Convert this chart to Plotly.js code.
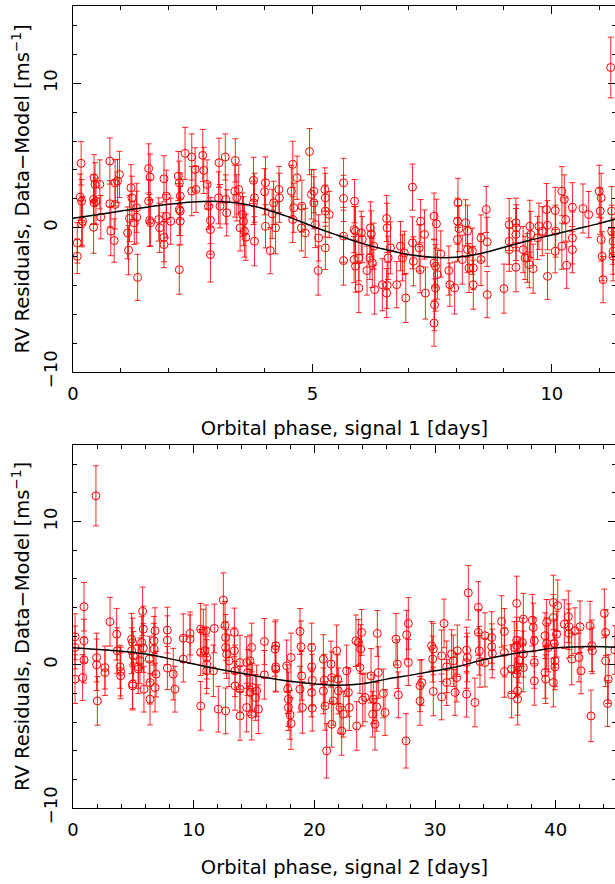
<!DOCTYPE html>
<html>
<head>
<meta charset="utf-8">
<script src="https://cdn.plot.ly/plotly-3.0.1.min.js"></script>
<style>
html,body{margin:0;padding:0;overflow:hidden;background:#fff;}
#chart{width:618px;height:884px;}
</style>
</head>
<body>
<div id="chart"></div>
<script>
// ---- Panel 1: signal 1 ----
const phase1 = [
0.15,0.18,0.17,0.20,0.18,0.09,0.09,0.44,0.46,0.43,
0.44,0.48,0.43,0.56,0.58,0.77,0.77,0.79,0.86,0.88,
0.88,0.93,0.97,1.14,1.16,1.21,1.23,1.18,1.33,1.28,
1.33,1.35,1.58,1.61,1.58,1.60,1.62,1.79,1.81,1.90,
1.95,1.90,1.90,1.95,2.04,2.20,2.22,2.24,2.22,2.24,
2.24,2.22,2.34,2.48,2.48,2.55,2.57,2.71,2.73,2.80,
2.83,2.87,2.87,2.87,3.05,3.04,3.07,3.18,3.19,3.21,
3.39,3.38,3.42,3.46,3.49,3.54,3.56,3.58,3.61,3.77,
3.79,3.77,3.79,4.02,4.00,4.02,4.12,4.16,4.19,4.23,
4.30,4.31,4.56,4.59,4.68,4.61,4.59,4.78,4.77,4.85,
4.94,4.98,5.03,5.03,5.06,5.12,5.13,5.26,5.27,5.27,
5.35,5.27,5.65,5.65,5.65,5.65,5.88,5.87,5.90,5.87,
5.90,5.97,5.97,6.02,6.04,6.14,6.21,6.23,6.20,6.25,
6.28,6.30,6.46,6.55,6.56,6.58,6.56,6.55,6.63,6.76,
6.84,6.88,6.92,6.95,7.09,7.09,7.11,7.23,7.26,7.25,
7.34,7.36,7.54,7.59,7.54,7.57,7.61,7.57,7.55,7.54,
7.68,7.85,7.87,7.97,8.03,8.04,8.06,8.03,8.13,8.20,
8.24,8.24,8.27,8.34,8.36,8.36,8.52,8.52,8.63,8.65,
8.65,9.00,9.11,9.11,9.11,9.25,9.26,9.25,9.25,9.40,
9.44,9.49,9.53,9.54,9.56,9.61,9.70,9.73,9.80,9.89,
9.91,9.91,10.07,10.07,10.08,10.21,10.21,10.26,10.29,10.31,
10.43,10.43,10.43,10.65,10.77,10.99,11.03,11.01,11.03,11.05,
11.07,11.25,11.25,11.28,11.28,11.28,11.23
];
const rv1 = [
2.12,1.84,4.46,0.45,0.27,-1.05,-1.98,3.46,3.00,1.96,
1.73,1.84,0.03,3.00,0.73,4.62,1.66,-0.24,-0.89,3.11,
1.61,3.23,3.69,-0.36,-1.56,2.77,2.07,0.64,1.38,0.34,
0.73,-3.44,4.11,3.51,1.84,0.50,0.34,0.57,-0.01,3.39,
0.80,-0.66,-1.17,2.19,0.45,3.58,3.11,2.19,1.26,1.15,
0.45,-2.91,5.15,4.90,2.53,4.04,2.65,5.01,3.97,3.00,
1.49,-0.13,-1.86,0.50,4.50,2.07,1.49,4.90,1.96,1.03,
4.66,2.53,2.07,2.65,-0.01,0.91,0.45,-0.24,-0.66,3.28,
2.07,1.72,-0.94,3.11,2.49,0.10,-1.59,0.96,1.72,-0.01,
2.65,2.07,2.53,4.39,3.46,1.38,0.57,1.49,-0.01,-0.36,
5.27,2.30,2.53,1.72,0.22,-2.97,-0.71,2.65,2.07,1.15,
0.91,-1.40,3.11,2.03,-0.59,-2.28,1.84,-0.13,-0.24,-2.21,
-2.67,-2.09,-4.18,-0.36,-0.82,-2.97,-0.01,-0.43,-2.09,-2.44,
-1.28,-4.29,-3.95,0.64,-0.01,-2.09,-3.99,-4.53,-1.40,-3.95,
-1.28,-2.09,-1.75,-4.87,2.81,-1.05,-2.33,-1.40,0.45,-2.91,
-0.47,-4.53,0.80,0.27,-2.44,-2.67,-3.25,-4.18,-5.34,-6.61,
-1.82,-2.97,-3.95,-4.18,0.45,1.72,-0.06,-0.82,-2.21,0.34,
-0.24,-1.52,-2.79,-1.63,-2.79,-3.95,-0.71,-2.21,1.26,-0.98,
-4.64,-4.22,0.22,-0.94,-1.52,0.34,-0.01,-2.74,-0.47,-1.52,
-2.09,-2.09,-2.56,0.10,-0.47,-2.84,-0.71,0.10,-0.24,1.26,
-3.37,0.17,1.19,-1.63,-0.24,2.53,-1.28,1.96,0.57,-2.60,
1.42,-0.71,-1.52,1.33,0.91,2.53,2.07,1.15,-0.82,-1.98,
-3.60,1.15,-0.24,-0.94,-1.98,-1.63,11.10
];
const err1 = [
1.6,1.5,1.5,1.7,1.6,1.4,1.2,1.6,1.5,1.7,
1.5,1.6,1.8,1.7,1.5,1.6,1.6,1.7,1.5,1.6,
1.7,1.5,1.6,1.8,1.7,1.6,1.5,1.6,1.7,1.5,
1.8,1.6,1.7,1.6,1.5,1.8,1.6,1.5,1.7,1.6,
1.5,1.7,1.6,1.8,1.6,1.7,1.5,1.6,1.8,1.7,
1.6,1.7,1.8,1.6,1.7,1.5,1.6,1.8,1.6,1.7,
1.6,1.7,1.9,1.6,1.7,1.8,1.5,1.6,1.7,1.6,
1.5,1.8,1.6,1.7,1.6,1.5,1.7,1.8,1.6,1.6,
1.7,1.5,1.7,1.8,1.6,1.5,1.6,1.7,1.5,1.8,
1.6,1.7,1.8,1.6,1.5,1.7,1.6,1.8,1.6,1.7,
1.6,1.7,1.5,1.8,1.6,1.7,1.6,1.5,1.7,1.8,
1.6,1.5,1.7,1.6,1.8,1.7,1.5,1.6,1.7,1.6,
1.8,1.6,1.7,1.5,1.6,1.7,1.8,1.6,1.5,1.7,
1.6,1.7,1.8,1.6,1.7,1.5,1.6,1.7,1.8,1.6,
1.7,1.6,1.5,1.7,1.6,1.8,1.7,1.6,1.5,1.6,
1.7,1.8,1.6,1.7,1.6,1.5,1.7,1.6,1.8,1.6,
1.6,1.7,1.5,1.8,1.6,1.7,1.6,1.5,1.7,1.6,
1.8,1.6,1.7,1.6,1.5,1.7,1.6,1.8,1.6,1.7,
1.6,1.7,1.8,1.6,1.5,1.7,1.6,1.7,1.8,1.6,
1.5,1.7,1.6,1.8,1.6,1.7,1.5,1.6,1.7,1.8,
1.6,1.7,1.6,1.5,1.8,1.7,1.6,1.7,1.5,1.6,
1.7,1.8,1.6,1.7,1.6,1.8,1.7,1.6,1.5,1.7,
1.6,1.7,1.8,1.6,1.7,1.6,2.1
];
const model1Phase = [0,0.5,1,1.5,2,2.5,3,3.5,4,4.5,5,5.5,6,6.5,7,7.5,8,8.5,9,9.5,10,10.5,11,11.34];
const model1RV = [0.65,0.9,1.15,1.4,1.62,1.78,1.82,1.68,1.3,0.75,0.1,-0.5,-1.05,-1.5,-1.85,-2.05,-2.05,-1.8,-1.35,-0.9,-0.5,-0.1,0.3,0.6];

// ---- Panel 2: signal 2 ----
const phase2 = [
0.17,0.17,0.17,0.80,0.91,0.91,0.91,1.96,1.96,2.02,
2.65,2.65,3.07,3.62,3.67,3.90,3.95,3.95,4.86,4.94,
4.86,5.00,4.94,4.94,5.41,5.41,5.55,5.69,5.77,5.83,
5.83,5.88,6.38,6.38,6.33,6.71,6.80,6.71,6.80,6.88,
7.82,7.82,7.82,8.31,8.45,9.14,9.14,9.70,9.70,10.58,
10.58,10.58,10.80,10.94,11.02,11.08,11.08,11.08,1.90,11.71,
11.63,12.04,12.46,12.60,12.65,12.65,12.73,12.65,12.93,13.37,
13.37,13.43,13.43,13.84,13.84,13.84,14.39,14.48,14.39,14.67,
14.81,14.67,14.81,14.86,15.14,15.36,15.22,15.86,15.86,16.74,
16.80,16.80,16.80,17.71,17.79,17.85,17.85,17.99,18.07,18.07,
18.81,18.90,18.95,18.81,19.01,19.78,19.78,19.83,19.78,19.83,
20.75,20.83,20.75,20.89,21.02,21.38,21.44,21.57,21.44,21.85,
21.93,21.99,22.13,22.27,22.40,22.68,22.82,22.90,23.45,23.51,
23.65,23.78,23.84,23.92,24.01,24.20,24.70,24.83,24.89,25.03,
25.17,25.22,25.30,25.72,25.86,26.77,26.88,26.96,27.60,27.65,
27.79,27.79,28.76,28.76,28.90,29.72,29.86,29.81,29.86,30.55,
30.55,30.75,30.97,30.97,31.38,31.52,31.66,31.80,31.85,32.62,
32.68,32.62,32.62,32.76,33.31,33.59,33.59,33.67,33.73,34.14,
34.14,34.70,34.70,34.75,35.52,35.75,35.75,35.75,36.35,36.35,
36.57,36.77,36.77,36.77,36.85,36.77,36.85,36.85,36.96,37.24,
37.32,37.32,37.32,38.07,38.15,38.23,38.23,38.23,39.12,39.12,
39.17,39.25,39.25,39.39,39.81,39.81,39.89,39.94,39.94,39.81,
40.17,40.08,40.72,41.05,41.10,41.10,41.33,41.60,41.93,42.02,
42.10,42.85,42.99,43.04,42.93,44.03,44.14,44.14,44.36,44.30,
44.91
];
const rv2 = [
1.96,1.21,-1.00,-0.89,4.06,1.68,0.33,0.51,0.00,-2.52,
-0.19,-0.54,3.01,2.14,0.98,-0.14,-0.47,-0.77,1.79,1.56,
0.98,0.63,-1.35,-1.47,-0.14,-0.30,0.28,1.56,3.73,2.49,
1.17,-1.70,-2.40,-1.24,0.40,1.68,2.38,1.10,-1.59,-0.65,
2.42,1.72,-0.23,-0.65,-1.70,1.86,0.40,2.19,1.79,2.49,
0.86,-2.87,2.38,0.98,2.38,0.05,-0.42,0.51,11.80,2.54,
-0.42,-3.10,4.52,2.73,1.91,1.21,0.75,-3.22,0.28,2.26,
0.98,-0.42,-1.47,0.16,-1.70,-3.57,0.16,-0.54,-2.98,0.28,
1.21,-1.93,-3.45,-1.59,-2.28,-3.10,-1.82,1.63,-0.70,1.10,
1.33,-0.14,-0.30,-0.07,-1.70,-2.40,-2.98,-3.50,-4.10,0.51,
2.33,1.26,-0.77,-1.70,-2.98,1.21,-0.14,-1.07,-1.93,-3.03,
0.40,-1.07,-1.82,-2.87,-6.01,0.05,-0.89,-2.52,-4.15,0.98,
-1.00,-1.82,-2.98,-4.62,-3.45,-0.42,-1.93,-2.98,1.68,-4.27,
1.56,-0.19,1.10,2.26,-2.47,-2.28,-0.77,-3.45,-2.40,-4.15,
-2.94,2.19,-0.54,-2.00,-3.33,1.79,0.05,-2.10,-5.31,2.10,
2.89,0.16,-2.52,-1.47,-1.24,1.33,1.10,0.40,-1.86,0.63,
-2.24,2.89,-0.14,-1.24,0.75,0.28,-1.93,-0.89,0.98,1.03,
0.51,0.16,-2.05,5.03,-2.63,4.01,2.26,0.98,0.23,2.03,
0.16,1.91,1.26,0.79,3.03,2.33,0.86,-0.47,-2.10,-0.30,
1.21,4.29,1.72,1.33,-0.19,-0.65,-1.82,-2.40,0.33,1.56,
3.19,0.75,-0.19,3.12,2.61,1.68,0.16,-1.12,2.03,-0.54,
-1.00,2.96,1.49,1.21,4.36,3.31,1.49,0.28,-0.14,-1.24,
4.13,2.14,2.84,3.36,2.66,2.19,0.40,2.38,0.51,2.66,
-0.42,2.73,1.33,0.98,-3.57,3.59,2.26,0.28,-1.00,-2.70,
1.03
];
const err2 = [
1.6,1.5,1.7,1.6,1.7,1.5,1.6,1.7,1.8,1.7,
1.5,1.6,1.7,1.8,1.6,1.5,1.7,1.6,1.8,1.7,
1.6,1.7,1.8,1.6,1.5,1.7,1.6,1.8,1.7,1.6,
1.7,1.6,1.8,1.5,1.6,1.7,1.6,1.8,1.7,1.6,
1.6,1.7,1.5,1.8,1.6,1.7,1.6,1.5,1.7,1.8,
1.6,1.7,1.5,1.6,1.8,1.7,1.6,1.5,2.1,1.7,
1.8,1.6,1.9,1.7,1.6,1.8,1.7,1.6,1.8,1.7,
1.6,1.8,1.7,1.9,1.6,1.7,1.8,1.6,1.7,1.8,
1.7,1.6,1.8,1.7,1.6,1.7,1.8,1.6,1.7,1.9,
1.8,1.7,1.6,1.8,1.7,1.9,1.6,1.7,1.8,1.7,
1.6,1.8,1.7,1.6,1.8,1.7,1.6,1.8,1.7,1.6,
1.7,1.8,1.6,1.7,1.9,1.6,1.8,1.7,1.6,1.8,
1.7,1.6,1.8,1.7,1.6,1.8,1.7,1.6,1.8,1.7,
1.6,1.8,1.7,1.6,1.8,1.7,1.9,1.6,1.7,1.8,
1.7,1.6,1.8,1.7,1.6,1.8,1.7,1.6,1.9,1.7,
1.8,1.6,1.7,1.8,1.6,1.7,1.8,1.6,1.7,1.8,
1.6,1.7,1.8,1.6,1.7,1.8,1.6,1.7,1.8,1.6,
1.7,1.8,1.6,1.9,1.7,1.8,1.6,1.7,1.8,1.6,
1.7,1.8,1.6,1.7,1.8,1.6,1.7,1.8,1.6,1.7,
1.8,1.9,1.6,1.7,1.8,1.6,1.7,1.8,1.6,1.7,
1.8,1.6,1.7,1.8,1.7,1.6,1.8,1.7,1.6,1.8,
1.7,1.6,1.8,1.7,1.9,1.6,1.7,1.8,1.6,1.7,
1.8,1.6,1.7,1.8,1.6,1.7,1.8,1.6,1.7,1.8,
1.6,1.7,1.8,1.6,1.8,1.7,1.6,1.8,1.7,1.6,
1.7
];
const model2Phase = [0,3,6,9,12,15,18,20,22,24,26,28,30,32,34,36,38,40,42,44,45];
const model2RV = [1.2,1.02,0.75,0.25,-0.3,-0.75,-1.15,-1.33,-1.42,-1.33,-1.0,-0.72,-0.42,-0.1,0.35,0.7,0.95,1.17,1.26,1.26,1.22];

const axisTitle1 = 'Orbital phase, signal 1 [days]';
const axisTitle2 = 'Orbital phase, signal 2 [days]';
const yTitle = 'RV Residuals, Data\u2212Model [ms<sup>\u22121</sup>]';

const ptStyle = {
  mode: 'markers', type: 'scatter', hoverinfo: 'skip',
  marker: {symbol: 'circle-open', size: 8, color: 'red', line: {width: 1, color: 'red'}}
};
const ebar = (arr) => ({type: 'data', array: arr, visible: true, color: 'rgba(255,0,0,0.85)', thickness: 1, width: 3});

const data = [
  Object.assign({x: phase1, y: rv1, xaxis: 'x', yaxis: 'y', error_y: ebar(err1)}, ptStyle),
  {x: model1Phase, y: model1RV, xaxis: 'x', yaxis: 'y', mode: 'lines', type: 'scatter',
   line: {color: 'black', width: 1.5, shape: 'spline'}, hoverinfo: 'skip'},
  Object.assign({x: phase2, y: rv2, xaxis: 'x2', yaxis: 'y2', error_y: ebar(err2)}, ptStyle),
  {x: model2Phase, y: model2RV, xaxis: 'x2', yaxis: 'y2', mode: 'lines', type: 'scatter',
   line: {color: 'black', width: 1.5, shape: 'spline'}, hoverinfo: 'skip'}
];

const fontFam = 'DejaVu Sans, sans-serif';
function xax(range, dtick, minorDtick, anchor, title, standoff) {
  return {
    anchor: anchor, range: range, dtick: dtick, tick0: 0,
    showline: true, linecolor: 'black', linewidth: 1, mirror: 'ticks',
    ticks: 'inside', ticklen: 8, tickwidth: 1, tickcolor: 'black',
    minor: {dtick: minorDtick, tick0: 0, ticks: 'inside', ticklen: 4, tickcolor: 'black', tickwidth: 1},
    showgrid: false, zeroline: false,
    tickfont: {family: fontFam, size: 18, color: 'black'},
    ticklabelstandoff: 5,
    title: {text: title, font: {family: fontFam, size: 19.5, color: 'black'}, standoff: standoff},
    automargin: false
  };
}
function yax(range, domain, anchor) {
  return {
    anchor: anchor, domain: domain, range: range, dtick: 10, tick0: 0,
    showline: true, linecolor: 'black', linewidth: 1, mirror: 'ticks',
    ticks: 'inside', ticklen: 8, tickwidth: 1, tickcolor: 'black',
    minor: {dtick: 2, tick0: 0, ticks: 'inside', ticklen: 4, tickcolor: 'black', tickwidth: 1},
    showgrid: false, zeroline: false, tickangle: -90,
    tickfont: {family: fontFam, size: 18, color: 'black'},
    ticklabelstandoff: 8,
    title: {text: yTitle, font: {family: fontFam, size: 19.5, color: 'black'}, standoff: 4},
    automargin: false
  };
}

const layout = {
  width: 618, height: 884,
  margin: {l: 73, r: 2, t: 6, b: 76},
  paper_bgcolor: 'white', plot_bgcolor: 'white',
  showlegend: false,
  font: {family: fontFam, size: 16, color: 'black'},
  xaxis: xax([0, 11.34], 5, 1, 'y', axisTitle1, 18),
  yaxis: yax([-10, 15.36], [0.5436, 1], 'x'),
  xaxis2: xax([0, 45], 10, 2, 'y2', axisTitle2, 21),
  yaxis2: yax([-10, 15.35], [0, 0.4526], 'x2')
};

Plotly.newPlot('chart', data, layout, {staticPlot: true, displayModeBar: false});
</script>
</body>
</html>
